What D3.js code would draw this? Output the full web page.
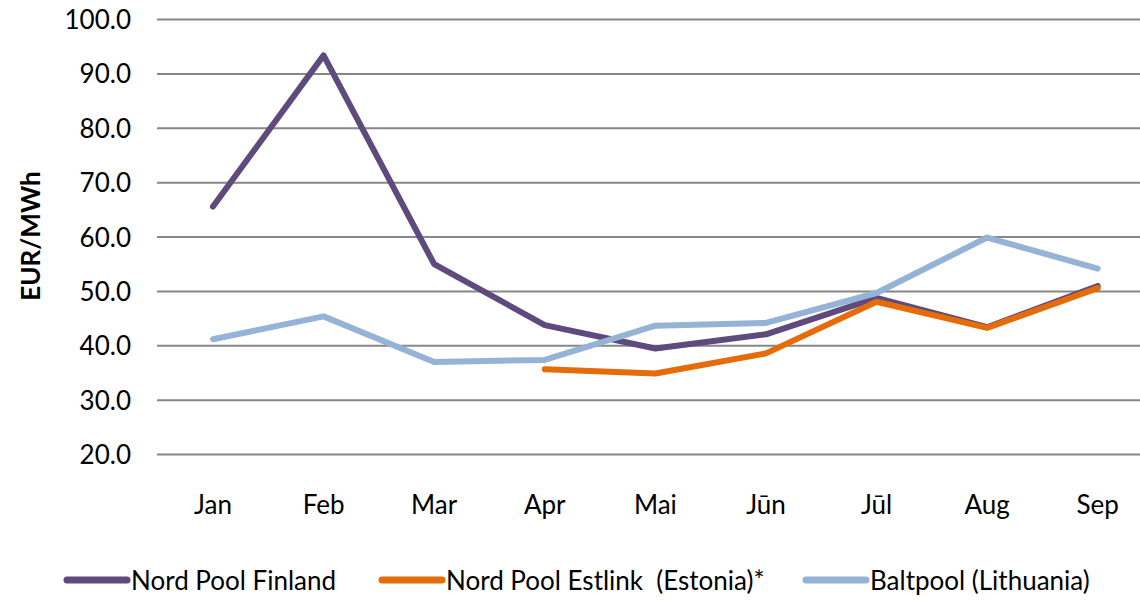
<!DOCTYPE html>
<html><head><meta charset="utf-8">
<script src="https://cdn.jsdelivr.net/npm/d3@7"></script>
<style>
html,body{margin:0;padding:0;background:#fff;overflow:hidden}
svg{display:block;font-family:Lato,"Open Sans",sans-serif}
</style></head>
<body>
<svg id="c" width="1140" height="600"></svg>
<script>
const months = ["Jan","Feb","Mar","Apr","Mai","Jūn","Jūl","Aug","Sep"];
const finland = [65.6, 93.4, 55.0, 43.8, 39.5, 42.1, 48.8, 43.4, 51.0];
const estonia = [null, null, null, 35.7, 34.9, 38.6, 48.1, 43.3, 50.6];
const baltpool = [41.2, 45.4, 37.0, 37.4, 43.7, 44.2, 49.7, 59.9, 54.2];
const yTicks = [20,30,40,50,60,70,80,90,100];
const seriesNames = ["Nord Pool Finland","Nord Pool Estlink  (Estonia)*","Baltpool (Lithuania)"];
const colors = ["#5E4A7C","#E46C0A","#95B3D7"];

const svg = d3.select("#c");
const x = d3.scaleBand().domain(months).range([157.7,1153]);
const y = d3.scaleLinear().domain([20,100]).range([454.5,19.5]);

// gridlines
svg.append("g").selectAll("line").data(yTicks).join("line")
  .attr("x1",157).attr("x2",1160)
  .attr("y1",d=>y(d)).attr("y2",d=>y(d))
  .attr("stroke","#878787").attr("stroke-width",2);

// y axis labels
const yAxis = d3.axisLeft(y).tickValues(yTicks).tickFormat(d3.format(".1f")).tickSize(0).tickPadding(0);
const ya = svg.append("g").attr("transform","translate(131,0)").call(yAxis);
ya.select(".domain").remove();
ya.selectAll("text").attr("font-size",26).attr("fill","#000").attr("font-family","Lato").attr("dy","0.35em");

// x axis labels
const xAxis = d3.axisBottom(x).tickSize(0).tickPadding(0);
const xa = svg.append("g").attr("transform","translate(0,505)").call(xAxis);
xa.select(".domain").remove();
xa.selectAll("text").attr("font-size",26).attr("fill","#000").attr("font-family","Lato").attr("dy","0.35em");

// axis title
svg.append("text").attr("transform","translate(31,236) rotate(-90)")
  .attr("text-anchor","middle").attr("dy","0.35em").attr("font-size",26).attr("font-weight","bold")
  .attr("fill","#000").text("EUR/MWh");

// lines
const line = d3.line().defined(d=>d.v!=null)
  .x(d=>x(d.m)+x.bandwidth()/2).y(d=>y(d.v));
const order = [finland, estonia, baltpool];
order.forEach((s,i)=>{
  svg.append("path").datum(months.map((m,j)=>({m, v:s[j]})))
    .attr("d",line).attr("fill","none").attr("stroke",colors[i])
    .attr("stroke-width",6).attr("stroke-linejoin","round").attr("stroke-linecap","round");
});

// legend
const legX = [67, 382, 806];
const lg = svg.append("g");
seriesNames.forEach((n,i)=>{
  lg.append("line").attr("x1",legX[i]).attr("x2",legX[i]+60).attr("y1",580).attr("y2",580)
    .attr("stroke",colors[i]).attr("stroke-width",7).attr("stroke-linecap","round");
  lg.append("text").attr("x",legX[i]+64).attr("y",581).attr("dy","0.35em")
    .attr("font-size",26).attr("fill","#000").style("white-space","pre").text(n);
});
</script>
</body></html>
